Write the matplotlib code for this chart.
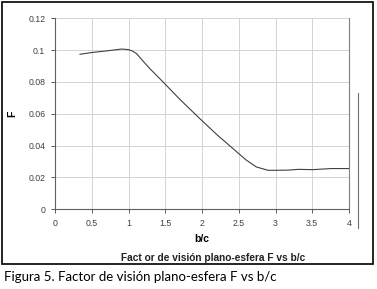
import matplotlib
matplotlib.use("Agg")
import matplotlib.pyplot as plt
from matplotlib.lines import Line2D
from matplotlib.patches import Rectangle

plt.rcParams['font.family'] = ['Liberation Sans', 'DejaVu Sans']

# values
b_c = [0.34, 0.5, 0.7, 0.91, 1.0, 1.05, 1.11, 1.2, 1.29, 1.47, 1.7, 1.97,
       2.2, 2.45, 2.6, 2.74, 2.9, 3.0, 3.17, 3.31, 3.5, 3.76, 4.0]
F = [0.0974, 0.0985, 0.0995, 0.1007, 0.1003, 0.0995, 0.0978, 0.093, 0.0884,
     0.080, 0.069, 0.057, 0.047, 0.037, 0.031, 0.0266, 0.0245, 0.0245,
     0.0246, 0.0251, 0.0249, 0.0256, 0.0256]
x_ticks = [0, 0.5, 1, 1.5, 2, 2.5, 3, 3.5, 4]
y_ticks = [0, 0.02, 0.04, 0.06, 0.08, 0.1, 0.12]
y_labels = ['0', '0.02', '0.04', '0.06', '0.08', '0.1', '0.12']

fig = plt.figure(figsize=(3.77, 2.89), dpi=100)
W, H = 377, 289

ax = fig.add_axes([55 / W, (H - 209.3) / H, 294 / W, 191 / H])
ax.plot(b_c, F, color='#404040', linewidth=0.8)
ax.set_xlim(0, 4)
ax.set_ylim(0, 0.12)
ax.set_xticks(x_ticks)
ax.set_xticklabels([('%g' % t) for t in x_ticks])
ax.set_yticks(y_ticks)
ax.set_yticklabels(y_labels)
ax.grid(True, color='#d4d4d4', linewidth=0.7)
ax.set_axisbelow(True)
ax.tick_params(labelsize=6.3, colors='#404040', length=3, width=0.6,
               pad=4, direction='out')
for side in ['left', 'bottom']:
    ax.spines[side].set_color('#606060')
    ax.spines[side].set_linewidth(0.8)
ax.spines['right'].set_color('#808080')
ax.spines['right'].set_linewidth(0.8)
ax.spines['top'].set_visible(False)

ax.set_xlabel('b/c', fontsize=7.5, fontweight='bold', labelpad=4)
ax.set_ylabel('F', fontsize=7.5, fontweight='bold', rotation=90, labelpad=8)

# frame and texts around the chart
fig.patches.append(Rectangle((2 / W, (H - 264) / H), 370.5 / W, 262 / H,
                             transform=fig.transFigure, fill=False,
                             edgecolor='black', linewidth=1.2))
fig.lines.append(Line2D([357.5 / W, 357.5 / W], [(H - 93) / H, (H - 228) / H],
                        transform=fig.transFigure, color='#707070',
                        linewidth=0.8))
fig.text(213 / W, (H - 258) / H, 'Fact or de visión plano-esfera F vs b/c',
         fontsize=7.3, fontweight='bold', ha='center', va='center',
         color='#202020')
fig.text(4 / W, (H - 277) / H, 'Figura 5. Factor de visión plano-esfera F vs b/c',
         fontsize=9.5, family='Lato', ha='left', va='center', color='black')

fig.savefig('out.png', dpi=100)
